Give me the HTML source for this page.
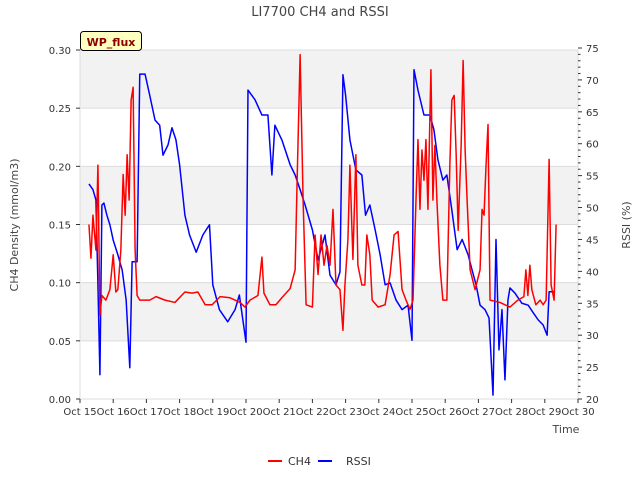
<!DOCTYPE html>
<html><head><meta charset="utf-8"><style>
body{margin:0;background:#fff;font-family:"Liberation Sans","DejaVu Sans",sans-serif}
svg text{font-family:"DejaVu Sans","Liberation Sans",sans-serif}
</style></head><body>
<svg id="chart" width="640" height="480" xmlns="http://www.w3.org/2000/svg">
<text x="320" y="16" text-anchor="middle" font-size="13" fill="#444">LI7700 CH4 and RSSI</text>
<g id="bands"></g>
<g id="grid"></g>
<g id="series"></g>
<g id="axes"></g>
<g>
<rect x="80.5" y="31.5" width="61" height="19" rx="3" fill="#ffffc0" stroke="#000" stroke-width="1"/>
<text x="111" y="46" text-anchor="middle" font-size="11" font-weight="bold" fill="#8b0000">WP_flux</text>
</g>
<text transform="translate(18,225) rotate(-90)" text-anchor="middle" font-size="11" fill="#444">CH4 Density (mmol/m3)</text>
<text transform="translate(630,225) rotate(-90)" text-anchor="middle" font-size="11" fill="#444">RSSI (%)</text>
<text x="566" y="433" text-anchor="middle" font-size="11" fill="#444">Time</text>
<g>
<g><line x1="268" y1="461" x2="282" y2="461" stroke="#f00" stroke-width="2"/><text x="288" y="465" font-size="11" fill="#333">CH4</text></g>
<g><line x1="318" y1="461" x2="332" y2="461" stroke="#00f" stroke-width="2"/><text x="346" y="465" font-size="11" fill="#333">RSSI</text></g>
</g>
</svg>
<script>
const xTickLabels=["Oct 15","Oct 16","Oct 17","Oct 18","Oct 19","Oct 20","Oct 21","Oct 22","Oct 23","Oct 24","Oct 25","Oct 26","Oct 27","Oct 28","Oct 29","Oct 30"];
const yTicks=[0,0.05,0.10,0.15,0.20,0.25,0.30];
const y2Ticks=[20,25,30,35,40,45,50,55,60,65,70,75];
const ch4Days=[.27,.33,.39,.48,.54,.6,.66,.78,.9,1.0,1.08,1.14,1.23,1.3,1.36,1.42,1.48,1.54,1.6,1.66,1.72,1.8,2.1,2.29,2.56,2.86,3.16,3.37,3.55,3.77,3.98,4.22,4.52,4.82,4.97,5.12,5.36,5.48,5.54,5.72,5.9,6.11,6.33,6.48,6.54,6.63,6.72,6.81,7.0,7.08,7.17,7.26,7.35,7.44,7.53,7.62,7.71,7.83,7.92,7.98,8.07,8.13,8.22,8.31,8.37,8.49,8.58,8.64,8.73,8.8,8.98,9.19,9.34,9.46,9.58,9.7,9.82,9.94,10.03,10.12,10.18,10.24,10.3,10.36,10.42,10.48,10.57,10.63,10.69,10.75,10.84,10.93,11.05,11.14,11.2,11.27,11.33,11.39,11.48,11.54,11.6,11.66,11.75,11.9,12.05,12.11,12.17,12.23,12.29,12.35,12.65,12.95,13.19,13.37,13.43,13.49,13.55,13.61,13.73,13.86,13.95,14.04,14.13,14.19,14.28,14.34];
const ch4Values=[.150,.121,.158,.128,.201,.072,.089,.085,.094,.124,.092,.094,.128,.193,.158,.210,.171,.257,.268,.128,.089,.085,.085,.088,.085,.083,.092,.091,.092,.081,.081,.088,.087,.083,.079,.085,.089,.122,.091,.081,.081,.088,.095,.111,.188,.296,.171,.081,.079,.141,.107,.141,.115,.132,.115,.163,.098,.094,.059,.098,.137,.201,.120,.210,.115,.098,.098,.141,.124,.085,.079,.081,.107,.141,.144,.094,.085,.077,.085,.171,.223,.163,.214,.188,.223,.163,.283,.171,.218,.171,.115,.085,.085,.201,.257,.261,.210,.145,.218,.291,.214,.171,.111,.094,.111,.163,.158,.201,.236,.085,.083,.079,.085,.088,.111,.089,.115,.094,.081,.085,.081,.085,.206,.098,.085,.150];
const rssiDays=[.27,.39,.48,.54,.6,.66,.72,.81,.9,1.0,1.14,1.27,1.39,1.5,1.57,1.72,1.8,1.96,2.1,2.26,2.4,2.5,2.65,2.77,2.89,3.0,3.16,3.3,3.5,3.7,3.9,4.0,4.2,4.45,4.67,4.8,5.0,5.06,5.27,5.48,5.66,5.78,5.87,6.08,6.33,6.48,6.63,6.78,7.0,7.17,7.38,7.53,7.71,7.83,7.92,8.0,8.13,8.31,8.49,8.6,8.73,8.89,9.04,9.19,9.34,9.52,9.7,9.88,10.0,10.06,10.18,10.36,10.54,10.66,10.78,10.93,11.05,11.2,11.36,11.51,11.69,11.81,11.93,12.05,12.2,12.32,12.44,12.53,12.62,12.71,12.8,12.89,12.95,13.1,13.31,13.5,13.64,13.8,13.95,14.07,14.13,14.31];
const rssiValues=[53.7,52.8,51.2,37.9,23.8,50.4,50.7,48.8,47.3,44.9,42.6,40.2,35.5,24.9,41.5,41.5,70.9,70.9,67.6,63.7,62.9,58.2,59.8,62.5,60.6,56.7,48.8,45.7,43.0,45.7,47.3,37.9,34.0,32.1,34.0,36.3,28.9,68.4,66.9,64.5,64.5,55.1,62.9,60.6,56.7,55.1,52.8,50.4,46.5,41.8,45.7,39.4,37.9,39.9,70.8,67.6,60.6,55.9,55.1,48.8,50.4,46.5,42.6,37.9,38.2,35.5,34.0,34.7,29.2,71.6,68.4,64.5,64.5,62.2,57.5,54.3,55.1,49.6,43.4,45.0,42.6,40.2,37.9,34.7,34.0,32.7,20.6,45.0,27.7,34.0,23.0,35.5,37.4,36.6,35.0,34.7,33.6,32.4,31.6,30.0,36.8,36.8];

const L=80,R=578,T=50,B=399;
const xS=d=>L+d*(R-L)/15;
const yS=v=>B-v*(B-T)/0.30;
const y2S=v=>B-(v-20)*(B-48)/55;
const NS="http://www.w3.org/2000/svg";
function mk(tag,attrs,parent){const e=document.createElementNS(NS,tag);for(const k in attrs)e.setAttribute(k,attrs[k]);parent.appendChild(e);return e;}
const bands=document.getElementById('bands'),grid=document.getElementById('grid'),axes=document.getElementById('axes'),series=document.getElementById('series');
for(let i=0;i<6;i++){ if(i%2===0){const y0=yS(yTicks[6-i]),y1=yS(yTicks[5-i]);const r=mk('rect',{x:L,y:y0,width:R-L,height:y1-y0,fill:'#f2f2f2'},bands);

}}
yTicks.forEach(v=>{const y=yS(v);const l=mk('line',{x1:L,x2:R,y1:y,y2:y,stroke:'#dcdcdc','stroke-width':1},grid);


const t=mk('text',{x:L-9,y:y+4,'text-anchor':'end','font-size':10,fill:'#333'},axes);t.textContent=v.toFixed(2);


mk('line',{x1:L-4,x2:L,y1:y,y2:y,stroke:'#333'},axes);});
mk('line',{x1:L,x2:L,y1:T,y2:B,stroke:'#dcdcdc'},grid);
mk('line',{x1:R,x2:R,y1:T,y2:B,stroke:'#dcdcdc'},grid);
xTickLabels.forEach((s,i)=>{const x=xS(i);mk('line',{x1:x,x2:x,y1:B,y2:B+4,stroke:'#333'},axes);
const t=mk('text',{x:x,y:B+16,'text-anchor':'middle','font-size':10,fill:'#333'},axes);t.textContent=s;

});
for(let v=20;v<=75;v++){const y=y2S(v);mk('line',{x1:R,x2:R+(v%5===0?4:2.5),y1:y,y2:y,stroke:'#333'},axes);}
y2Ticks.forEach(v=>{const t=mk('text',{x:R+8,y:y2S(v)+4,'font-size':10,fill:'#333'},axes);t.textContent=v;

});
const rp=mk('polyline',{points:rssiDays.map((d,i)=>xS(d)+','+y2S(rssiValues[i])).join(' '),fill:'none',stroke:'#0000ff','stroke-width':1.5,'stroke-linejoin':'round'},series);


const cp=mk('polyline',{points:ch4Days.map((d,i)=>xS(d)+','+yS(ch4Values[i])).join(' '),fill:'none',stroke:'#ff0000','stroke-width':1.5,'stroke-linejoin':'round'},series);


</script>
</body></html>
